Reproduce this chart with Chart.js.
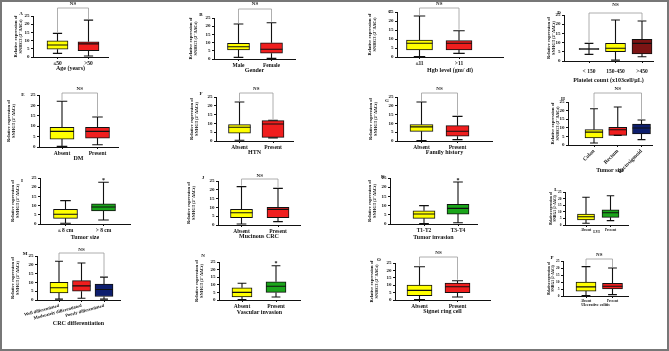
<!DOCTYPE html>
<html>
<head>
<meta charset="utf-8">
<script src="https://cdn.jsdelivr.net/npm/chart.js@4.4.1/dist/chart.umd.min.js"></script>
<style>
  body { margin: 0; background: #fff; }
  #fig { position: relative; width: 669px; height: 351px; overflow: hidden; }
  #frame { position: absolute; left: 0; top: 0; width: 669px; height: 351px; box-sizing: border-box; border: 2px solid #777; }
  canvas { position: absolute; }
</style>
</head>
<body>
<div id="fig"><div id="frame"></div></div>
<script>
// every box: [min, q1, median, q3, max] of relative SNHG3 expression
const ageLabels = ['≤50', '>50'];
const ageStats = [[2.2, 4.7, 7.3, 9.8, 14.4], [0.6, 3.8, 8, 9.3, 22.5]];

const genderLabels = ['Male', 'Female'];
const genderStats = [[1, 5.5, 7.5, 9.6, 21.3], [0.4, 3.5, 5.9, 9.9, 22.1]];

const hgbLabels = ['≤11', '>11'];
const hgbStats = [[0.2, 3.9, 7.6, 9.4, 22.8], [2, 3.9, 7.6, 9.1, 14.6]];

const plateletLabels = ['< 150', '150-450', '>450'];
const plateletStats = [[3.6, 6.3, 6.5, 6.7, 9.6], [0.5, 5.1, 6.9, 9.6, 22.3], [2.3, 3.8, 9.6, 11.8, 21.7]];

const dmLabels = ['Absent', 'Present'];
const dmStats = [[0.3, 3.8, 7.5, 9.5, 22], [1.1, 4.3, 7.5, 9.5, 14.4]];

const htnLabels = ['Absent', 'Present'];
const htnStats = [[0.4, 4.5, 7.8, 9.3, 22.2], [1.8, 2.1, 9.7, 11.6, 11.8]];

const familyLabels = ['Absent', 'Present'];
const familyStats = [[0.2, 5.5, 8, 9.3, 22.2], [0.8, 2.7, 5.5, 8.7, 14]];

const siteLabels = ['Colon', 'Rectum', 'Rectosigmoid'];
const siteStats = [[1.2, 4.1, 7.5, 8.9, 21.1], [5.6, 5.6, 8.9, 10.3, 22.1], [3.1, 6.4, 9.9, 12.2, 14.5]];

const sizeLabels = ['≤ 8 cm', '> 8 cm'];
const sizeStats = [[0.4, 3.1, 5.3, 8, 12.7], [2.2, 7.1, 9.2, 10.9, 22.7]];

const mucinousLabels = ['Absent', 'Present'];
const mucinousStats = [[0.6, 4.2, 7, 8.9, 21.8], [1.9, 4.2, 8.9, 10, 20.8]];

const invasionLabels = ['T1-T2', 'T3-T4'];
const invasionStats = [[0.3, 3.1, 5.4, 7.2, 10], [0.7, 5.4, 8.5, 10.7, 22.8]];

const lviLabels = ['Absent', 'Present'];
const lviStats = [[1.3, 3.8, 6.3, 8.3, 21], [3.3, 5.8, 9.3, 11.4, 22.2]];

const diffLabels = ['Well differentiated', 'Moderately differentiated', 'Poorly differentiated'];
const diffStats = [[0.5, 4, 7, 10, 22], [1, 5, 8, 11, 21], [0.5, 2, 6, 9, 13]];

const vascularLabels = ['Absent', 'Present'];
const vascularStats = [[0.3, 2, 5, 8, 11], [2, 5, 9, 12, 22.5]];

const signetLabels = ['Absent', 'Present'];
const signetStats = [[0.3, 3, 6.5, 10, 22.5], [2, 5, 9, 11.5, 13]];

const colitisLabels = ['Absent', 'Present'];
const colitisStats = [[0.3, 3.5, 6.5, 10, 21], [1, 5, 7, 9, 20]];

const yTicks = [0, 5, 10, 15, 20, 25];
const yTitle = ['Relative expression of', 'SNHG3 (2⁻ΔΔCt)'];

const YEL = '#FFFF00', RED = '#F01E1E', DRED = '#7C1414', NAVY = '#0D1E6E', GRN = '#1AA51A';
const FONT = "'Liberation Serif', 'DejaVu Serif', serif";
const INK = '#111';

const panels = [
  { letter: 'A', labels: ageLabels, stats: ageStats, colors: [YEL, RED], xTitle: 'Age (years)',
    g: { ax: 33, right: 108, top: 16, bottom: 57, c0: 57.5, c1: 88.5, bw: 21, ylDx: 14, xh: 14, lx: 21, ly: 14 },
    ns: { y: 4, br: 8, from: 0, to: 1 } },
  { letter: 'B', labels: genderLabels, stats: genderStats, colors: [YEL, RED], xTitle: 'Gender',
    g: { ax: 214, right: 295, top: 18, bottom: 59, c0: 238.5, c1: 271.5, bw: 22, ylDx: 20, xh: 14, lx: 201, ly: 15 },
    ns: { y: 4, br: 9, from: 0, to: 1 } },
  { letter: 'C', labels: hgbLabels, stats: hgbStats, colors: [YEL, RED], xTitle: 'Hgb level (gm/ dl)',
    g: { ax: 397, right: 503, top: 12, bottom: 57, c0: 419.5, c1: 459, bw: 26, ylDx: 24, xh: 16, lx: 390, ly: 12 },
    ns: { y: 4, br: 8, from: 0, to: 1 } },
  { letter: 'D', labels: plateletLabels, stats: plateletStats, colors: ['rgba(0,0,0,0)', YEL, DRED], xTitle: 'Platelet count (x103cell/µL)',
    g: { ax: 564, right: 653, top: 15, bottom: 61, c0: 589, c1: 642, bw: 20, ylDx: 12, xh: 22, tickPad: 5, lx: 559, ly: 13 },
    ns: { y: 5, br: 13, from: 0, to: 2 } },
  { letter: 'E', labels: dmLabels, stats: dmStats, colors: [YEL, RED], xTitle: 'DM',
    g: { ax: 39, right: 118, top: 95, bottom: 147, c0: 62, c1: 97.5, bw: 24, ylDx: 27, xh: 14, lx: 23, ly: 95 },
    ns: { y: 89, br: 93, from: 0, to: 1 } },
  { letter: 'F', labels: htnLabels, stats: htnStats, colors: [YEL, RED], xTitle: 'HTN',
    g: { ax: 216, right: 293, top: 97, bottom: 141, c0: 239.5, c1: 273, bw: 22, ylDx: 21, xh: 14, lx: 201, ly: 94 },
    ns: { y: 89, br: 93, from: 0, to: 1 } },
  { letter: 'G', labels: familyLabels, stats: familyStats, colors: [YEL, RED], xTitle: 'Family history',
    g: { ax: 397, right: 492, top: 97, bottom: 141, c0: 421.5, c1: 457.5, bw: 23, ylDx: 23, xh: 14, lx: 387, ly: 101 },
    ns: { y: 89, br: 93, from: 0, to: 1 } },
  { letter: 'H', labels: siteLabels, stats: siteStats, colors: [YEL, RED, NAVY], xTitle: 'Tumor site',
    g: { ax: 568, right: 652, top: 102, bottom: 145, c0: 594, c1: 641.5, bw: 18, ylDx: 12, xh: 28, rot: 45, lx: 563, ly: 99 },
    ns: { y: 89, br: 93, from: 0, to: 2 } },
  { letter: 'I', labels: sizeLabels, stats: sizeStats, colors: [YEL, GRN], xTitle: 'Tumor size',
    g: { ax: 40, right: 130, top: 178, bottom: 224, c0: 65.5, c1: 103.5, bw: 24, ylDx: 24, xh: 16, lx: 22, ly: 181 },
    star: 1 },
  { letter: 'J', labels: mucinousLabels, stats: mucinousStats, colors: [YEL, RED], xTitle: 'Mucinous CRC',
    g: { ax: 218, right: 300, top: 181, bottom: 225, c0: 241.5, c1: 278, bw: 22, ylDx: 26, xh: 14, lx: 203, ly: 178 },
    ns: { y: 176, br: 179, from: 0, to: 1 } },
  { letter: 'K', labels: invasionLabels, stats: invasionStats, colors: [YEL, GRN], xTitle: 'Tumor invasion',
    g: { ax: 390, right: 477, top: 178, bottom: 224, c0: 424, c1: 458, bw: 22, ylDx: 17, xh: 16, lx: 383, ly: 177 },
    star: 1 },
  { letter: 'L', labels: lviLabels, stats: lviStats, colors: [YEL, GRN], xTitle: 'LVI',
    g: { ax: 565, right: 628, top: 192, bottom: 225, c0: 586, c1: 610.5, bw: 17, ylDx: 11, xh: 9, small: true, lx: 556, ly: 190 } },
  { letter: 'M', labels: diffLabels, stats: diffStats, colors: [YEL, RED, NAVY], xTitle: 'CRC differentiation',
    g: { ax: 37, right: 120, top: 256, bottom: 300, c0: 59, c1: 104, bw: 18, ylDx: 21, xh: 26, rot: 15, lx: 25, ly: 254 },
    ns: { y: 250, br: 253, from: 0, to: 2 } },
  { letter: 'N', labels: vascularLabels, stats: vascularStats, colors: [YEL, GRN], xTitle: 'Vascular invasion',
    g: { ax: 219, right: 300, top: 262, bottom: 300, c0: 242, c1: 276, bw: 20, ylDx: 19, xh: 15, lx: 203, ly: 256 },
    star: 1 },
  { letter: 'O', labels: signetLabels, stats: signetStats, colors: [YEL, RED], xTitle: 'Signet ring cell',
    g: { ax: 395, right: 490, top: 263, bottom: 300, c0: 419.5, c1: 457.5, bw: 25, ylDx: 20, xh: 14, lx: 379, ly: 260 },
    ns: { y: 253, br: 257, from: 0, to: 1 } },
  { letter: 'P', labels: colitisLabels, stats: colitisStats, colors: [YEL, RED], xTitle: 'Ulcerative colitis',
    g: { ax: 563, right: 628, top: 261, bottom: 296, c0: 586, c1: 612.5, bw: 20, ylDx: 11, xh: 11, small: true, lx: 552, ly: 258 },
    ns: { y: 255, br: 259, from: 0, to: 1 } }
];

function makePanel(p) {
  const g = p.g;
  const yfs = g.small ? 3.5 : 4.5;
  const tfs = g.small ? 3.5 : 5;
  const xfs = g.small ? 3.5 : (g.rot === 15 ? 4.5 : 5.5);
  const ttl = g.small ? 4 : 6;
  const lh = yfs * 1.2;

  const left = Math.floor(g.ax - g.ylDx - lh);
  let topC = Math.min(g.top - 5, g.ly - 5);
  if (p.ns) topC = Math.min(topC, p.ns.y - 5);
  topC = Math.floor(topC);
  const W = g.ax - left;
  const width = g.right + 4 - left;
  const height = g.bottom + g.xh - topC;

  const canvas = document.createElement('canvas');
  canvas.width = width;
  canvas.height = height;
  canvas.style.left = left + 'px';
  canvas.style.top = topC + 'px';
  document.getElementById('fig').appendChild(canvas);

  const n = p.labels.length;
  const vpp = (n - 1) / (g.c1 - g.c0);
  const xmin = -(g.c0 - g.ax) * vpp;
  const xmax = (n - 1) + (g.right - g.c1) * vpp;

  // whiskers, medians, letter, brackets
  const boxPlugin = {
    id: 'box' + p.letter,
    afterDatasetsDraw(chart) {
      const ctx = chart.ctx;
      const ys = chart.scales.y, xs = chart.scales.x;
      const meta = chart.getDatasetMeta(0);
      ctx.save();
      ctx.strokeStyle = INK;
      ctx.lineWidth = 1.1;
      p.stats.forEach((s, i) => {
        const bar = meta.data[i];
        const cx = bar.x, hw = bar.width / 2, cap = bar.width * 0.22;
        const py = v => ys.getPixelForValue(v);
        ctx.beginPath();
        ctx.moveTo(cx, py(s[3])); ctx.lineTo(cx, py(s[4]));
        ctx.moveTo(cx, py(s[1])); ctx.lineTo(cx, py(s[0]));
        ctx.moveTo(cx - cap, py(s[4])); ctx.lineTo(cx + cap, py(s[4]));
        ctx.moveTo(cx - cap, py(s[0])); ctx.lineTo(cx + cap, py(s[0]));
        ctx.moveTo(cx - hw, py(s[2])); ctx.lineTo(cx + hw, py(s[2]));
        ctx.stroke();
      });

      ctx.fillStyle = INK;
      ctx.textAlign = 'center';
      ctx.textBaseline = 'middle';
      ctx.font = 'bold 5px ' + FONT;
      ctx.fillText(p.letter, g.lx - left, g.ly - topC);

      if (p.ns) {
        const x1 = xs.getPixelForValue(p.ns.from);
        const x2 = xs.getPixelForValue(p.ns.to);
        const yb = p.ns.br - topC;
        const y1 = ys.getPixelForValue(p.stats[p.ns.from][4]) - 1;
        const y2 = ys.getPixelForValue(p.stats[p.ns.to][4]) - 1;
        ctx.strokeStyle = '#9a9a9a';
        ctx.lineWidth = 0.8;
        ctx.beginPath();
        ctx.moveTo(x1, y1); ctx.lineTo(x1, yb); ctx.lineTo(x2, yb); ctx.lineTo(x2, y2);
        ctx.stroke();
        ctx.fillText('NS', (x1 + x2) / 2, p.ns.y - topC);
      }
      if (p.star !== undefined) {
        const sx = xs.getPixelForValue(p.star);
        const sy = ys.getPixelForValue(p.stats[p.star][4]);
        ctx.font = 'bold 6px ' + FONT;
        ctx.textBaseline = 'bottom';
        ctx.fillText('*', sx, sy + 1);
      }
      ctx.restore();
    }
  };

  new Chart(canvas, {
    type: 'bar',
    data: {
      datasets: [{
        data: p.stats.map((s, i) => ({ x: i, y: [s[1], s[3]] })),
        backgroundColor: p.colors,
        borderColor: INK,
        borderWidth: 1,
        borderSkipped: false,
        barThickness: g.bw
      }]
    },
    options: {
      responsive: false,
      animation: false,
      devicePixelRatio: 1,
      layout: { padding: { left: 0, top: g.top - topC, right: width - (g.right - left), bottom: 0 } },
      plugins: { legend: { display: false }, tooltip: { enabled: false } },
      scales: {
        x: {
          type: 'linear',
          min: xmin,
          max: xmax,
          offset: false,
          grid: { offset: false, drawOnChartArea: false, tickLength: 2, color: INK },
          border: { color: INK, width: 1 },
          afterBuildTicks: s => { s.ticks = p.labels.map((l, i) => ({ value: i })); },
          ticks: {
            autoSkip: false,
            color: INK,
            padding: g.tickPad !== undefined ? g.tickPad : 1,
            maxRotation: g.rot || 0,
            minRotation: g.rot || 0,
            font: { family: FONT, size: xfs, weight: 'bold' },
            callback: (v, i) => p.labels[i]
          },
          title: { display: true, text: p.xTitle, color: INK, padding: 0, font: { family: FONT, size: ttl, weight: 'bold', lineHeight: 1 } },
          afterFit: s => { s.height = g.xh; s.paddingLeft = 0; s.paddingRight = 0; }
        },
        y: {
          min: 0,
          max: 25,
          afterBuildTicks: s => { s.ticks = yTicks.map(v => ({ value: v })); },
          grid: { drawOnChartArea: false, tickLength: 2, color: INK },
          border: { color: INK, width: 1 },
          ticks: { autoSkip: false, color: INK, padding: 1.5, font: { family: FONT, size: tfs, weight: 'bold' } },
          title: { display: true, text: yTitle, color: INK, padding: 0, font: { family: FONT, size: yfs, weight: 'bold', lineHeight: 1.2 } },
          afterFit: s => { s.width = W; s.paddingTop = 0; s.paddingBottom = 0; }
        }
      }
    },
    plugins: [boxPlugin]
  });
}

panels.forEach(makePanel);
</script>
</body>
</html>
